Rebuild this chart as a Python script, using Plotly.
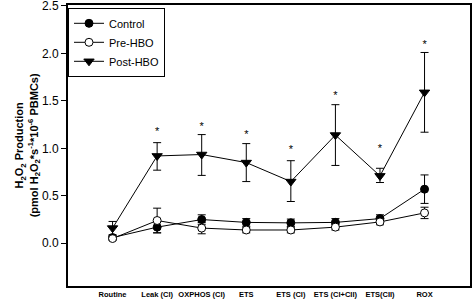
import plotly.graph_objects as go

categories = ["Routine", "Leak (CI)", "OXPHOS (CI)", "ETS", "ETS (CI)", "ETS (CI+CII)", "ETS(CII)", "ROX"]
control = [0.06, 0.17, 0.25, 0.22, 0.215, 0.22, 0.26, 0.57]
control_err = [0.02, 0.06, 0.05, 0.04, 0.04, 0.04, 0.04, 0.15]
pre_hbo = [0.05, 0.24, 0.16, 0.14, 0.14, 0.17, 0.225, 0.32]
pre_hbo_err = [0.02, 0.13, 0.06, 0.03, 0.03, 0.03, 0.03, 0.06]
post_hbo = [0.16, 0.92, 0.935, 0.85, 0.65, 1.14, 0.71, 1.59]
post_hbo_err_plus = [0.07, 0.14, 0.21, 0.20, 0.22, 0.32, 0.08, 0.42]
post_hbo_err_minus = [0.07, 0.15, 0.22, 0.20, 0.21, 0.32, 0.07, 0.42]
star_y = [None, 1.17, 1.22, 1.14, 0.98, 1.55, 0.99, 2.09]
y_ticks = [0.0, 0.5, 1.0, 1.5, 2.0, 2.5]

x = list(range(len(categories)))
FONT = "Liberation Sans, Arial, sans-serif"

def err(arr, minus=None):
    d = dict(type="data", array=arr, color="black", thickness=1, width=4, visible=True)
    if minus is not None:
        d["arrayminus"] = minus
        d["symmetric"] = False
    return d

fig = go.Figure()
fig.add_trace(go.Scatter(
    x=x, y=control, name="Control", mode="lines+markers",
    line=dict(color="black", width=1),
    marker=dict(symbol="circle", size=8, color="black", line=dict(color="black", width=1)),
    error_y=err(control_err)))
fig.add_trace(go.Scatter(
    x=x, y=pre_hbo, name="Pre-HBO", mode="lines+markers",
    line=dict(color="black", width=1),
    marker=dict(symbol="circle", size=8, color="white", line=dict(color="black", width=1)),
    error_y=err(pre_hbo_err)))
fig.add_trace(go.Scatter(
    x=x, y=post_hbo, name="Post-HBO", mode="lines+markers",
    line=dict(color="black", width=1),
    marker=dict(symbol="triangle-down", size=9, color="black", line=dict(color="black", width=1)),
    error_y=err(post_hbo_err_plus, post_hbo_err_minus)))

sx = [xi for xi, s in zip(x, star_y) if s is not None]
sy = [s for s in star_y if s is not None]
fig.add_trace(go.Scatter(
    x=sx, y=sy, mode="text", text=["*"] * len(sx), textposition="middle center",
    textfont=dict(family=FONT, size=11, color="black"), showlegend=False, hoverinfo="skip"))

fig.add_annotation(
    text="<b>H<sub>2</sub>O<sub>2</sub> Production<br>(pmol H<sub>2</sub>O<sub>2</sub>*s<sup>-1</sup>*10<sup>-6</sup> PBMCs)</b>",
    xref="paper", yref="paper", x=-0.1, y=0.5, xanchor="center", yanchor="middle",
    textangle=-90, showarrow=False, align="center",
    font=dict(family=FONT, size=11, color="black"))

fig.update_layout(
    width=472, height=303,
    margin=dict(l=68, r=2, t=5, b=17),
    paper_bgcolor="white", plot_bgcolor="white",
    font=dict(family=FONT, color="black"),
    showlegend=True,
    legend=dict(x=0.0, y=0.99, xanchor="left", yanchor="top",
                bordercolor="black", borderwidth=1, bgcolor="white",
                font=dict(family=FONT, size=11, color="black"),
                tracegroupgap=0, itemwidth=30),
    xaxis=dict(range=[-1, 8.02], tickmode="array", tickvals=x,
               ticktext=["<b>%s</b>" % c for c in categories],
               tickfont=dict(family=FONT, size=7.5, color="black"),
               showgrid=False, zeroline=False, showline=True, linecolor="black",
               linewidth=2, mirror=True, ticks="", automargin=False),
    yaxis=dict(range=[-0.45, 2.51], tickmode="array", tickvals=y_ticks,
               ticktext=["%.1f" % v for v in y_ticks],
               tickfont=dict(family=FONT, size=12, color="black"),
               showgrid=False, zeroline=False, showline=True, linecolor="black",
               linewidth=2, mirror=True, ticks="outside", ticklen=5, tickcolor="black",
               ticklabeloverflow="allow", automargin=False),
)

fig.write_html("out.html", config={"displayModeBar": False},
               post_script="document.body.style.margin='0';")
